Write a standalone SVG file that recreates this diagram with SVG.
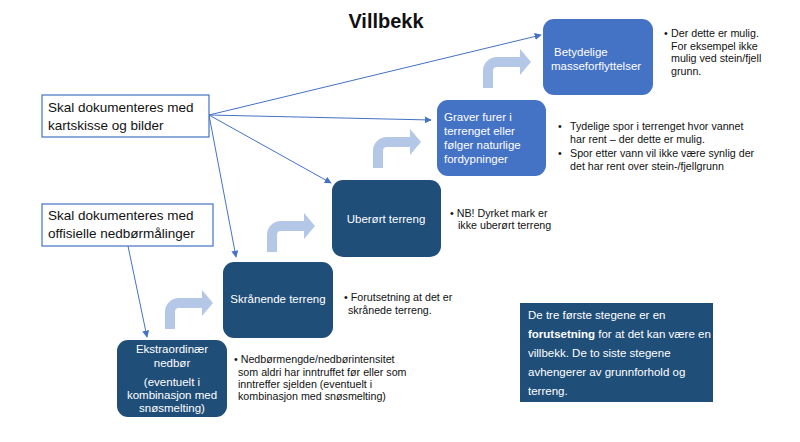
<svg xmlns="http://www.w3.org/2000/svg" width="800" height="442" viewBox="0 0 800 442">
<style>
text{font-family:"Liberation Sans",Arial,sans-serif;fill:#111}
.dark{fill:#1F4E79}
.mid{fill:#4472C4}
.bt{fill:#fff;font-size:11.5px}
.note{font-size:10.7px}
.call{fill:#fff;stroke:#4472C4;stroke-width:1.2}
.ct{font-size:13.5px}
.conn{stroke:#4472C4;stroke-width:1;fill:none;marker-end:url(#ah)}
.bent{fill:#B4C7E7}
</style>
<defs>
<marker id="ah" viewBox="0 0 10 10" refX="9" refY="5" markerWidth="7" markerHeight="7" orient="auto" markerUnits="userSpaceOnUse">
<path d="M0,0 L10,5 L0,10 Z" fill="#4472C4"/>
</marker>
<path id="bentArrow" d="M0,31 L0,14 A14,14 0 0 1 14,0 L37,0 L37,-8 L48,5 L37,18 L37,10 L14,10 A4,4 0 0 0 10,14 L10,31 Z"/>
</defs>
<rect width="800" height="442" fill="#fff"/>
<text x="386" y="28" text-anchor="middle" font-weight="bold" font-size="20">Villbekk</text>

<g id="connectors">
<line class="conn" x1="209" y1="115" x2="541" y2="35"/>
<line class="conn" x1="209" y1="115" x2="431" y2="120"/>
<line class="conn" x1="209" y1="115" x2="331" y2="183"/>
<line class="conn" x1="209" y1="115" x2="236" y2="257"/>
<line class="conn" x1="128" y1="246" x2="147" y2="337"/>
</g>

<g id="bent-arrows" class="bent">
<use href="#bentArrow" transform="translate(165,298)"/>
<use href="#bentArrow" transform="translate(267,221)"/>
<use href="#bentArrow" transform="translate(373,137)"/>
<use href="#bentArrow" transform="translate(483,57)"/>
</g>

<g id="doc-kart">
<rect class="call" x="42" y="95" width="167" height="42"/>
<text class="ct" x="48" y="112">Skal dokumenteres med</text>
<text class="ct" x="48" y="130">kartskisse og bilder</text>
</g>

<g id="doc-nedbor">
<rect class="call" x="42" y="204" width="171" height="42"/>
<text class="ct" x="48" y="220">Skal dokumenteres med</text>
<text class="ct" x="48" y="238">offisielle nedbørmålinger</text>
</g>

<g id="ekstraordinaer">
<rect class="dark" x="117" y="340" width="110" height="77" rx="11"/>
<text class="bt" x="172" y="353" text-anchor="middle">Ekstraordinær</text>
<text class="bt" x="172" y="367" text-anchor="middle">nedbør</text>
<text class="bt" x="172" y="386" text-anchor="middle">(eventuelt i</text>
<text class="bt" x="172" y="399" text-anchor="middle">kombinasjon med</text>
<text class="bt" x="172" y="412" text-anchor="middle">snøsmelting)</text>
<text class="note" x="234" y="363">• Nedbørmengde/nedbørintensitet</text>
<text class="note" x="238" y="376">som aldri har inntruffet før eller som</text>
<text class="note" x="238" y="388">inntreffer sjelden (eventuelt i</text>
<text class="note" x="238" y="400">kombinasjon med snøsmelting)</text>
</g>

<g id="skranende">
<rect class="dark" x="223" y="262" width="110" height="76" rx="11"/>
<text class="bt" x="278" y="303" text-anchor="middle">Skrånende terreng</text>
<text class="note" x="344" y="301">• Forutsetning at det er</text>
<text class="note" x="348" y="314">skrånede terreng.</text>
</g>

<g id="uberort">
<rect class="dark" x="332" y="180" width="109" height="77" rx="11"/>
<text class="bt" x="386" y="223" text-anchor="middle">Uberørt terreng</text>
<text class="note" x="450" y="217">• NB! Dyrket mark er</text>
<text class="note" x="458" y="229">ikke uberørt terreng</text>
</g>

<g id="graver">
<rect class="mid" x="437" y="100" width="109" height="76" rx="11"/>
<text class="bt" x="444" y="121">Graver furer i</text>
<text class="bt" x="444" y="135">terrenget eller</text>
<text class="bt" x="444" y="149">følger naturlige</text>
<text class="bt" x="444" y="163">fordypninger</text>
<text class="note" x="558" y="130">•</text>
<text class="note" x="570" y="130">Tydelige spor i terrenget hvor vannet</text>
<text class="note" x="570" y="143">har rent – der dette er mulig.</text>
<text class="note" x="558" y="157">•</text>
<text class="note" x="570" y="157">Spor etter vann vil ikke være synlig der</text>
<text class="note" x="570" y="170">det har rent over stein-/fjellgrunn</text>
</g>

<g id="betydelige">
<rect class="mid" x="543" y="19" width="110" height="76" rx="11"/>
<text class="bt" x="554" y="56">Betydelige</text>
<text class="bt" x="551" y="70">masseforflyttelser</text>
<text class="note" x="664" y="37">•</text>
<text class="note" x="671" y="37">Der dette er mulig.</text>
<text class="note" x="671" y="49.5">For eksempel ikke</text>
<text class="note" x="671" y="62">mulig ved stein/fjell</text>
<text class="note" x="671" y="74.5">grunn.</text>
</g>

<g id="info-box">
<rect class="dark" x="520" y="303" width="193" height="99"/>
<text x="528" y="319" style="fill:#fff;font-size:11.5px">De tre første stegene er en</text>
<text x="528" y="338" style="fill:#fff;font-size:11.5px"><tspan font-weight="bold">forutsetning</tspan> for at det kan være en</text>
<text x="528" y="357" style="fill:#fff;font-size:11.5px">villbekk. De to siste stegene</text>
<text x="528" y="376" style="fill:#fff;font-size:11.5px">avhengerer av grunnforhold og</text>
<text x="528" y="395" style="fill:#fff;font-size:11.5px">terreng.</text>
</g>
</svg>
